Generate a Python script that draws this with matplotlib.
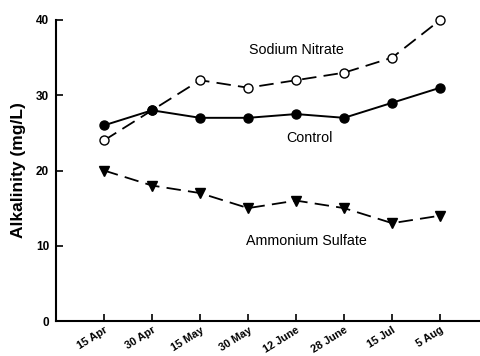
import matplotlib
matplotlib.use("Agg")
import matplotlib.pyplot as plt

dates = ["15 Apr", "30 Apr", "15 May", "30 May", "12 June", "28 June", "15 Jul", "5 Aug"]
control = [26, 28, 27, 27, 27.5, 27, 29, 31]
sodium_nitrate = [24, 28, 32, 31, 32, 33, 35, 40]
ammonium_sulfate = [20, 18, 17, 15, 16, 15, 13, 14]

plt.rcParams['font.family'] = ['Liberation Sans', 'DejaVu Sans']

fig = plt.figure(figsize=(4.81, 3.56), dpi=100)
ax = fig.add_axes([56/481, 1-321/356, 1-56/481, (321-20)/356])

x = list(range(len(dates)))
dash = (0, (8, 4))
ax.plot(x, sodium_nitrate, color='black', lw=1.3, linestyle=dash, marker='o',
        markersize=6.5, markerfacecolor='white', markeredgecolor='black', markeredgewidth=1,
        zorder=3, clip_on=False)
ax.plot(x, control, color='black', lw=1.4, marker='o', markersize=6.5,
        markerfacecolor='black', zorder=3, clip_on=False)
ax.plot(x, ammonium_sulfate, color='black', lw=1.3, linestyle=dash, marker='v',
        markersize=6.5, markerfacecolor='black', zorder=3, clip_on=False)

ax.set_xlim(-1.0, 7.85)
ax.set_ylim(0, 40)
ax.set_yticks([0, 10, 20, 30, 40])
ax.set_xticks(x)
ax.set_xticklabels(dates, rotation=32, ha='right', rotation_mode='anchor',
                   fontweight='bold', fontsize=7.8)
for lab in ax.get_yticklabels():
    lab.set_fontweight('bold')
    lab.set_fontsize(8.5)
ax.tick_params(direction='in', length=5, width=1.2, pad=5)
ax.tick_params(axis='x', pad=3)
ax.spines['top'].set_visible(False)
ax.spines['right'].set_visible(False)
ax.spines['left'].set_linewidth(1.5)
ax.spines['bottom'].set_linewidth(1.5)
ax.set_ylabel("Alkalinity (mg/L)", fontweight='bold', fontsize=12.5, va='center')
ax.yaxis.set_label_coords(-0.088, 0.5)

ax.text(4.0, 36.0, "Sodium Nitrate", ha='center', va='center', fontsize=10.3)
ax.text(4.28, 24.3, "Control", ha='center', va='center', fontsize=10.3)
ax.text(4.22, 10.6, "Ammonium Sulfate", ha='center', va='center', fontsize=10.3)

fig.savefig("out.png", dpi=100)
